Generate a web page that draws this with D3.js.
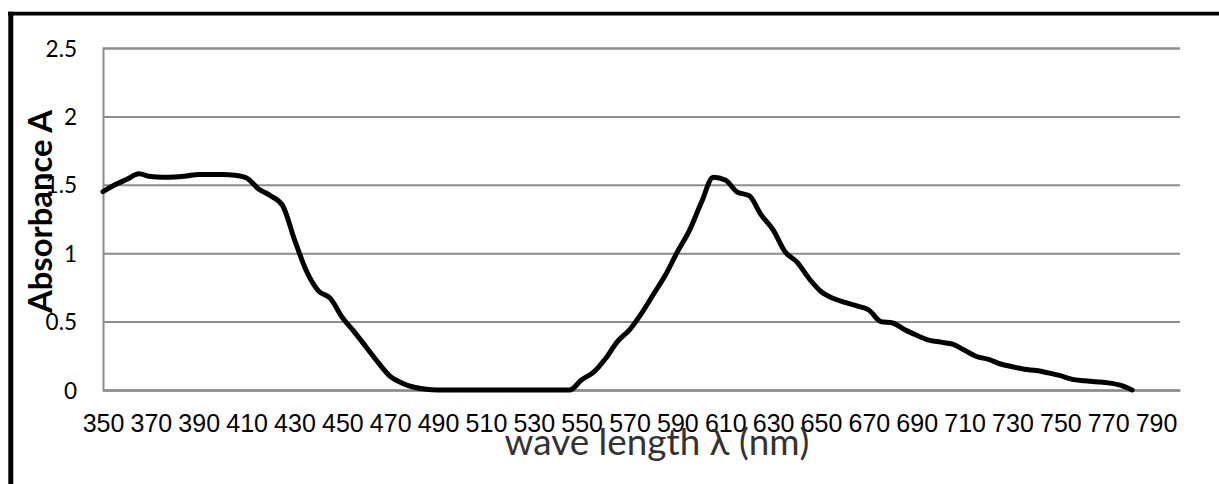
<!DOCTYPE html>
<html><head><meta charset="utf-8">
<script src="https://cdn.jsdelivr.net/npm/d3@7"></script>
<style>body{margin:0;background:#fff}svg{display:block}</style>
</head><body><svg id="c" width="1219" height="484"></svg>
<script>
const wavelengths = [350,355,360,365,370,375,380,385,390,395,400,405,410,415,420,425,430,435,440,445,450,455,460,465,470,475,480,485,490,495,500,505,510,515,520,525,530,535,540,545,550,555,560,565,570,575,580,585,590,595,600,605,610,615,620,625,630,635,640,645,650,655,660,665,670,675,680,685,690,695,700,705,710,715,720,725,730,735,740,745,750,755,760,765,770,775,780,785,790,795,800];
const absorbance = [1.45,1.50,1.54,1.58,1.56,1.555,1.557,1.565,1.575,1.575,1.575,1.57,1.55,1.47,1.42,1.35,1.10,0.87,0.725,0.67,0.53,0.425,0.313,0.20,0.10,0.05,0.02,0.005,0,0,0,0,0,0,0,0,0,0,0,0,0.075,0.13,0.23,0.355,0.44,0.56,0.70,0.84,1.01,1.165,1.37,1.555,1.535,1.447,1.42,1.28,1.17,1.01,0.935,0.815,0.72,0.67,0.64,0.615,0.585,0.50,0.49,0.44,0.40,0.365,0.35,0.335,0.29,0.245,0.224,0.19,0.17,0.152,0.142,0.125,0.105,0.078,0.068,0.06,0.052,0.035,0,null,null,null,null];
const xTickLabels = [350,370,390,410,430,450,470,490,510,530,550,570,590,610,630,650,670,690,710,730,750,770,790];
const yTicks = [0,0.5,1,1.5,2,2.5];
const xTitle = "wave length \u03bb (nm)";
const yTitle = "Absorbance A";

const svg = d3.select("#c");
const L = 103, R = 1180, T = 48, B = 390;
const x = d3.scalePoint().domain(wavelengths).range([L, R]).padding(0);
const y = d3.scaleLinear().domain([0, 2.5]).range([B, T]);

// frame
svg.append("line").attr("x1",10.8).attr("x2",10.8).attr("y1",11.8).attr("y2",490).attr("stroke","#000").attr("stroke-width",5);
svg.append("line").attr("x1",8).attr("x2",1225).attr("y1",13.6).attr("y2",13.6).attr("stroke","#000").attr("stroke-width",3.6);

// gridlines + y axis
const gy = svg.append("g").attr("transform",`translate(${L},0)`)
  .call(d3.axisLeft(y).tickValues(yTicks).tickSize(-(R-L)).tickPadding(26).tickFormat(d3.format("")));
gy.select(".domain").attr("stroke","#8c8c8c").attr("stroke-width",2);
gy.selectAll(".tick line").attr("stroke","#8c8c8c").attr("stroke-width",2);
gy.selectAll(".tick text").attr("font-family","Lato").attr("font-size",22.5).attr("fill","#000").attr("dy","0.36em");

// x axis
const gx = svg.append("g").attr("transform",`translate(0,${B})`)
  .call(d3.axisBottom(x).tickValues(xTickLabels).tickSize(0).tickPadding(0));
gx.select(".domain").attr("stroke","#8c8c8c").attr("stroke-width",2);
gx.selectAll(".tick text").attr("font-family","Liberation Sans, Arial").attr("font-size",25).attr("fill","#000").attr("dy",0).attr("y",42);

// line
const line = d3.line().defined(d => d[1] != null).x(d => x(d[0])).y(d => y(d[1])).curve(d3.curveMonotoneX);
svg.append("path").datum(wavelengths.map((w,i)=>[w, absorbance[i]]))
  .attr("d", line).attr("fill","none").attr("stroke","#000").attr("stroke-width",5).attr("stroke-linejoin","round").attr("stroke-linecap","round");

function fit(sel, target){
  const fs = +sel.attr("font-size");
  const w = sel.node().getComputedTextLength();
  if (w > 0) sel.attr("font-size", fs * target / w);
}
// titles
const xt = svg.append("text").attr("x",657).attr("y",455).attr("text-anchor","middle")
  .attr("font-family","Lato").attr("font-size",28).attr("fill","#333").text(xTitle);
fit(xt, 305);
const yt = svg.append("text").attr("transform","translate(52,211.5) rotate(-90)").attr("text-anchor","middle")
  .attr("font-family","Lato").attr("font-weight","bold").attr("font-size",28).attr("fill","#000").text(yTitle);
fit(yt, 203);
</script></body></html>
